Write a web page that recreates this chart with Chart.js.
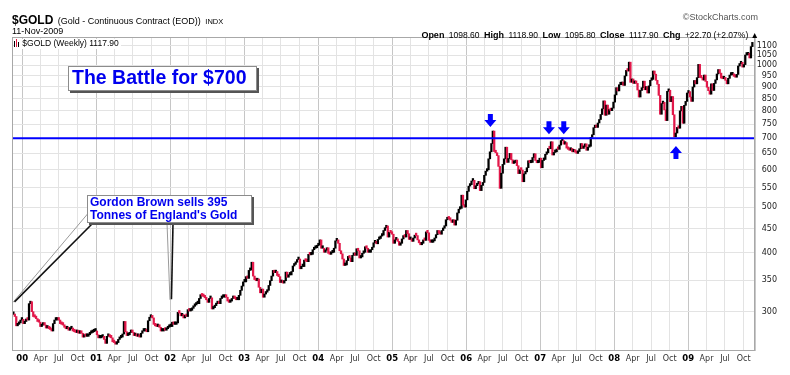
<!DOCTYPE html>
<html><head><meta charset="utf-8">
<script src="https://cdn.jsdelivr.net/npm/chart.js@4.4.1/dist/chart.umd.min.js"></script>
<style>
html,body{margin:0;padding:0;background:#fff;}
#wrap{position:relative;width:790px;height:375px;overflow:hidden;font-family:"Liberation Sans",Arial,sans-serif;}
canvas{position:absolute;left:0;top:0;}
.t{position:absolute;white-space:nowrap;color:#000;line-height:1;}
.b{font-weight:bold;font-size:9px;}
.v{font-size:8.5px;}
#leg{left:14px;top:39px;font-size:8.5px;background:#fff;padding:0 2px 1px 0;}
.ic{display:inline-block;width:1px;margin-right:1px;vertical-align:-1px;}
</style></head><body>
<div id="wrap">
<canvas id="c" width="790" height="375"></canvas>
<div class="t" style="left:12px;top:11px;"><span style="font-weight:bold;font-size:12px;">$GOLD</span> <span style="font-size:9px;">(Gold - Continuous Contract (EOD))</span> <span style="font-size:7.5px;">INDX</span></div>
<div class="t" style="left:12px;top:27px;font-size:9px;">11-Nov-2009</div>
<div class="t" style="right:32px;top:13px;font-size:9px;color:#555;">©StockCharts.com</div>
<div class="t" style="right:31px;top:25px;"><span class="b">Open</span> <span class="v">1098.60</span> <span class="b">High</span> <span class="v">1118.90</span> <span class="b">Low</span> <span class="v">1095.80</span> <span class="b">Close</span> <span class="v">1117.90</span> <span class="b">Chg</span> <span class="v">+22.70 (+2.07%) ▲</span></div>
<div class="t" id="leg"><span class="ic" style="height:6px;background:#000"></span><span class="ic" style="height:8px;background:#e0163f"></span><span class="ic" style="height:5px;background:#000"></span> $GOLD (Weekly) 1117.90</div>
</div>
<script>
// ---- weekly closes (Fridays), first week ending 1999-11-19 ----
const FIRST_WEEK = '1999-11-19';
const close1999 = [296,293,280,282,284,288,289];
const close2000 = [283,286,289,288, 312,315,300,293, 292,290,286,285,279, 281,284,281,277, 278,276,275,273,
  283,288,288,290,288, 283,282,281,278, 276,278,274,276, 277,273,272,271,274, 270,271,270,265, 267,266,266,268, 270,271,272,273,273];
const close2001 = [268,264,264,265, 266,262,257,266, 266,265,264,259,258, 256,258,262,264, 265,269,286,272,
  267,268,271,272,271, 267,268,266,266, 265,270,273,273,274, 272,287,292,293, 291,282,280,279, 281,278,273,273,275, 274,276,278,279];
const close2002 = [279,285,282,282, 284,299,298,294, 296,291,294,293,303, 301,302,305,308, 310,312,312,320,326,
  324,323,321,318, 314,320,321,304, 306,309,312,313,312, 320,322,322,323, 322,316,314,316, 320,322,320,318,318, 325,333,340,347];
const close2003 = [347,356,353,367,368, 382,357,351,349, 352,338,329,335, 322,327,330,333, 341,349,357,367,363,
  365,358,356,346, 348,345,349,364, 355,359,359,365,375, 378,382,387,388, 370,374,374,386,384, 383,397,396,397, 406,409,410,414];
const close2004 = [416,426,409,409,401, 405,410,399,397, 400,401,409,424, 426,419,404,398,388, 376,377,385,393,
  390,383,395,398, 395,408,404,390,392, 399,401,412,409, 401,401,406,411, 420,423,418,427,429, 434,436,446,452, 456,432,442,441,438];
const close2005 = [419,426,427,423, 415,419,428,435, 432,446,439,427, 428,423,430,436,435, 426,420,416,419,
  426,425,443,441, 425,421,421,424,430, 437,446,440,438, 446,451,456,470,473, 472,469,464,470, 458,469,486,495, 497,530,505,500,518];
const close2006 = [540,554,558,568, 570,547,555,560, 566,542,556,564,584, 596,600,633,655, 682,725,656,652,
  643,610,548,590,616, 633,670,622,634, 650,630,619,621, 629,612,589,600,599, 566,588,594,606, 627,621,622,637, 649,628,621,622,635];
const close2007 = [606,628,631,647, 652,666,665,688, 645,653,655,664,663, 677,692,692,680, 685,667,663,660,
  666,655,656,654,650, 656,665,682,666, 672,681,660,670,673, 703,712,737,743, 738,754,767,786, 808,840,783,823,787, 805,801,811,835];
const close2008 = [865,896,882,909, 909,921,906,949,975, 972,1015,920,935, 915,925,915,886, 856,884,896,925,887,
  901,873,904,929, 933,972,957,929, 911,863,787,829,834, 804,763,880,885, 837,858,785,705,718, 738,735,800,818, 753,822,838,873];
const close2009 = [879,856,838,899,928, 913,941,1004,942, 940,930,953,924, 898,883,868,913, 884,915,931,958,979,
  962,939,936,942, 929,913,938,953,954, 955,947,943,956, 996,1007,1014,991, 1003,1051,1052,1060,1036, 1095,1118];

// ---- axes ----
const X_FROM = '1999-11-17', X_TO = '2009-11-26';
const Y_MIN = 248.8, Y_MAX = 1147.7;
const yTicks = [300,350,400,450,500,550,600,650,700,750,800,850,900,950,1000,1050,1100];
const tickYears = [2000,2001,2002,2003,2004,2005,2006,2007,2008,2009];
const quarterMonths = [0,3,6,9];
const monthNames = ['', 'Apr', 'Jul', 'Oct'];
const battleLevel = 700;

// ---- annotations (anchored in data units: date, price) ----
const textBoxes = [
  {at:['2000-08-15', 996], w:189, h:25, lines:['The Battle for $700'], font:'bold 19.5px "Liberation Sans", Arial, sans-serif', pad:4, lh:0, top:13},
  {at:['2000-11-16', 530], w:165, h:28, lines:['Gordon Brown sells 395', "Tonnes of England's Gold"], font:'bold 12px "Liberation Sans", Arial, sans-serif', pad:3, lh:13.4, top:7.7,
   pointers:[{root:[[0.5,19],[6,28]], tip:['1999-11-17', 314]}, {root:[[80,28],[86,28]], tip:['2001-12-31', 318]}]}
];
const arrows = [
  {at:['2006-04-30', 739], dir:1},
  {at:['2007-02-13', 714], dir:1},
  {at:['2007-04-27', 714], dir:1},
  {at:['2008-11-01', 674], dir:-1}
];

function yearFrac(ms){ const d=new Date(ms); const y=d.getUTCFullYear(); const a=Date.UTC(y,0,1), b=Date.UTC(y+1,0,1); return y+(ms-a)/(b-a); }
const dx = s => yearFrac(Date.parse(s));

const closes = [].concat(close1999,close2000,close2001,close2002,close2003,close2004,close2005,close2006,close2007,close2008,close2009);
const t0 = Date.parse(FIRST_WEEK);
const bars = [], colors = [];
closes.forEach((c,i)=>{
  const p = i>0 ? closes[i-1] : c;
  bars.push({x: yearFrac(t0 + i*7*86400000), y:[Math.min(p,c), Math.max(p,c)]});
  colors.push(c >= p ? '#000000' : '#e2184a');
});
const xTickVals = [], xTickLabels = [];
tickYears.forEach(y=>quarterMonths.forEach((m,q)=>{
  xTickVals.push(yearFrac(Date.UTC(y,m,1)));
  xTickLabels.push(q===0 ? String(y).slice(2) : monthNames[q]);
}));
const XMIN = dx(X_FROM), XMAX = dx(X_TO);

function drawArrow(ctx,px,py,s){
  ctx.beginPath();
  ctx.moveTo(px,py);
  ctx.lineTo(px-6,py-s*7); ctx.lineTo(px-2.5,py-s*7); ctx.lineTo(px-2.5,py-s*13);
  ctx.lineTo(px+2.5,py-s*13); ctx.lineTo(px+2.5,py-s*7); ctx.lineTo(px+6,py-s*7);
  ctx.closePath(); ctx.fill();
}
const annot = {
  id:'annot',
  afterDatasetsDraw(chart){
    const {ctx, chartArea:a, scales:{x,y}} = chart;
    ctx.save();
    ctx.strokeStyle='#a8a8a8'; ctx.lineWidth=1;
    ctx.strokeRect(Math.round(a.left)-0.5, Math.round(a.top)+0.5, Math.round(a.right-a.left), Math.round(a.bottom-a.top));
    ctx.fillStyle='#0000ff';
    arrows.forEach(ar=>drawArrow(ctx, x.getPixelForValue(dx(ar.at[0])), y.getPixelForValue(ar.at[1]), ar.dir));
    textBoxes.forEach(b=>{
      const x0 = Math.round(x.getPixelForValue(dx(b.at[0]))), y0 = Math.round(y.getPixelForValue(b.at[1]));
      (b.pointers||[]).forEach(pt=>{
        const tx = x.getPixelForValue(dx(pt.tip[0])), ty = y.getPixelForValue(pt.tip[1]);
        ctx.strokeStyle='#9a9a9a'; ctx.lineWidth=1;
        ctx.beginPath(); ctx.moveTo(x0+pt.root[0][0], y0+pt.root[0][1]); ctx.lineTo(tx,ty); ctx.stroke();
        ctx.strokeStyle='#111'; ctx.lineWidth=1.6;
        ctx.beginPath(); ctx.moveTo(x0+pt.root[1][0], y0+pt.root[1][1]); ctx.lineTo(tx+1.5,ty-0.5); ctx.stroke();
      });
      ctx.fillStyle='#555'; ctx.fillRect(x0+2,y0+2,b.w,b.h);
      ctx.fillStyle='#fff'; ctx.fillRect(x0,y0,b.w,b.h);
      ctx.strokeStyle='#8c8c8c'; ctx.lineWidth=1; ctx.strokeRect(x0+0.5,y0+0.5,b.w-1,b.h-1);
      ctx.fillStyle='#0000ee'; ctx.font=b.font; ctx.textBaseline='middle'; ctx.textAlign='left';
      b.lines.forEach((l,i)=>ctx.fillText(l, x0+b.pad, y0+b.top+i*b.lh));
    });
    ctx.restore();
  }
};

new Chart(document.getElementById('c'), {
  type:'bar',
  data:{datasets:[
    {type:'line', data:[{x:XMIN,y:battleLevel},{x:XMAX,y:battleLevel}], borderColor:'#0000ff', borderWidth:2, pointRadius:0, order:0},
    {type:'bar', data:bars, backgroundColor:colors, borderWidth:0, barThickness:1.6, minBarLength:2.5, grouped:false, order:1}
  ]},
  options:{
    responsive:false, animation:false, devicePixelRatio:1,
    layout:{padding:{left:13, top:37, right:13, bottom:0}},
    plugins:{legend:{display:false}, tooltip:{enabled:false}},
    scales:{
      x:{type:'linear', min:XMIN, max:XMAX, offset:false,
        afterBuildTicks:s=>{ s.ticks = xTickVals.map(v=>({value:v})); },
        afterFit:s=>{ s.height = 25; },
        grid:{offset:false, drawTicks:false, color:c=>(c.index%4===0?'#c6c6c6':'#e3e3e3')},
        border:{display:true, color:'#a8a8a8'},
        ticks:{autoSkip:false, maxRotation:0, padding:4,
          callback:(v,i)=>xTickLabels[i],
          font:c=>(c.index%4===0?{family:'DejaVu Sans', size:8.5, weight:'bold'}:{family:'DejaVu Sans', size:8}),
          color:c=>(c.index%4===0?'#000':'#333')}
      },
      y:{type:'logarithmic', position:'right', min:Y_MIN, max:Y_MAX,
        afterBuildTicks:s=>{ s.ticks = yTicks.map(v=>({value:v})); },
        afterFit:s=>{ s.width = 22; },
        grid:{drawTicks:false, color:'#e3e3e3'},
        border:{display:true, color:'#c8c8c8'},
        ticks:{padding:3, crossAlign:'far', callback:v=>String(v), font:{family:'DejaVu Sans', size:8}, color:'#222'}
      }
    }
  },
  plugins:[annot]
});
</script>
</body></html>
